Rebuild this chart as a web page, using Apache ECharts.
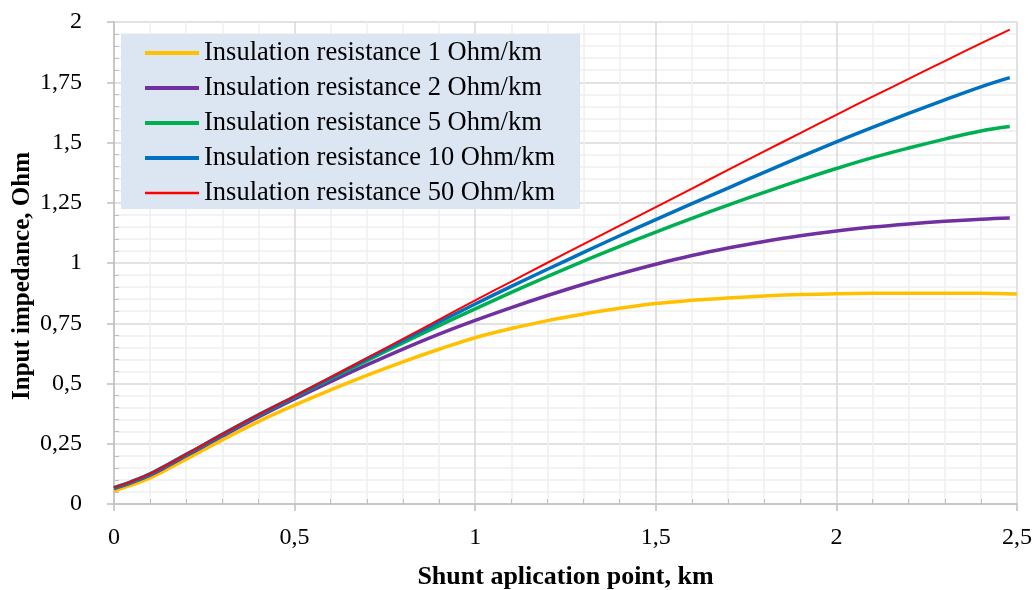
<!DOCTYPE html>
<html>
<head>
<meta charset="utf-8">
<script src="https://cdn.jsdelivr.net/npm/echarts@6/dist/echarts.min.js"></script>
<style>
html,body{margin:0;padding:0;background:#fff;}
#c{width:1036px;height:590px;}
</style>
</head>
<body>
<div id="c"></div>
<script>
// ---- data ----
var xValues = [0,0.05,0.1,0.15,0.2,0.25,0.3,0.4,0.5,0.6,0.7,0.8,0.9,1.0,1.1,1.2,1.3,1.4,1.5,1.6,1.7,1.8,1.9,2.0,2.1,2.2,2.3,2.4,2.48];
var xValuesR1 = [0,0.05,0.1,0.15,0.2,0.25,0.3,0.4,0.5,0.6,0.7,0.8,0.9,1.0,1.1,1.2,1.3,1.4,1.5,1.6,1.7,1.8,1.9,2.0,2.1,2.2,2.3,2.4,2.45,2.5];
var seriesNames = [
  'Insulation resistance 1 Ohm/km',
  'Insulation resistance 2 Ohm/km',
  'Insulation resistance 5 Ohm/km',
  'Insulation resistance 10 Ohm/km',
  'Insulation resistance 50 Ohm/km'
];
var r1  = [0.054,0.079,0.108,0.146,0.186,0.226,0.266,0.342,0.410,0.474,0.534,0.590,0.642,0.690,0.728,0.761,0.788,0.812,0.832,0.845,0.855,0.863,0.869,0.872,0.874,0.875,0.875,0.875,0.873,0.871];
var r2  = [0.064,0.090,0.120,0.159,0.200,0.241,0.282,0.361,0.436,0.508,0.577,0.643,0.705,0.762,0.815,0.865,0.912,0.955,0.995,1.031,1.062,1.089,1.113,1.133,1.149,1.162,1.173,1.182,1.187];
var r5  = [0.067,0.093,0.124,0.164,0.205,0.246,0.288,0.368,0.444,0.520,0.595,0.668,0.740,0.810,0.878,0.944,1.008,1.069,1.128,1.185,1.240,1.293,1.344,1.392,1.437,1.477,1.514,1.548,1.566];
var r10 = [0.068,0.094,0.125,0.165,0.206,0.247,0.289,0.370,0.446,0.524,0.602,0.679,0.755,0.830,0.903,0.974,1.044,1.113,1.180,1.246,1.311,1.376,1.440,1.503,1.563,1.621,1.677,1.731,1.769];
var r50 = [0.069,0.095,0.126,0.165,0.207,0.248,0.290,0.371,0.448,0.526,0.605,0.685,0.765,0.845,0.923,1.001,1.078,1.155,1.232,1.309,1.386,1.463,1.539,1.615,1.690,1.764,1.838,1.911,1.968];
var xTickLabels = ['0','0,5','1','1,5','2','2,5'];
var yTickLabels = ['0','0,25','0,5','0,75','1','1,25','1,5','1,75','2'];
var xTitle = 'Shunt aplication point, km';
var yTitle = 'Input impedance, Ohm';

// ---- chart ----
function zip(xs, ys){ return ys.map(function(v,i){ return [xs[i], v]; }); }
var colors = ['#FFC000','#7030A0','#00B050','#0070C0','#FF0000'];
var widths = [3.5,3.5,3.5,3.5,2];
var allData = [zip(xValuesR1, r1), zip(xValues, r2), zip(xValues, r5), zip(xValues, r10), zip(xValues, r50)];
var FONT = '"Liberation Serif","Times New Roman",serif';

var chart = echarts.init(document.getElementById('c'), null, {renderer:'canvas'});
var series = seriesNames.map(function(n,i){
  return {
    name: n, type: 'line', data: allData[i], smooth: 0.4,
    symbol: 'none', showSymbol: false,
    lineStyle: {color: colors[i], width: widths[i]},
    itemStyle: {color: colors[i]},
    z: 2 + i
  };
});
chart.setOption({
  animation: false,
  backgroundColor: '#ffffff',
  grid: {left: 114, right: 19, top: 22, bottom: 86, containLabel: false, outerBoundsMode: 'none'},
  legend: {
    orient: 'vertical', left: 121, top: 34,
    backgroundColor: '#dce6f2',
    padding: [4, 25, 1, 22],
    itemGap: 5, itemWidth: 54, itemHeight: 14,
    itemStyle: {opacity: 0},
    textStyle: {fontFamily: FONT, fontSize: 26.5, color: '#000', lineHeight: 30},
    data: seriesNames.map(function(n,i){
      return {name: n, lineStyle: {color: colors[i], width: i === 4 ? 2.5 : 4}};
    })
  },
  xAxis: {
    type: 'value', min: 0, max: 2.5, interval: 0.5,
    name: xTitle, nameLocation: 'middle', nameGap: 60,
    nameTextStyle: {fontFamily: FONT, fontSize: 26, fontWeight: 'bold', color: '#000'},
    axisLine: {show: true, lineStyle: {color: '#bfbfbf', width: 1.5}},
    axisTick: {show: true, length: 7, lineStyle: {color: '#bfbfbf', width: 1.5}},
    minorTick: {show: true, splitNumber: 5, length: -5, lineStyle: {color: '#bfbfbf', width: 1}},
    axisLabel: {margin: 22, fontFamily: FONT, fontSize: 24, color: '#000',
      formatter: function(v){ return xTickLabels[Math.round(v/0.5)]; }},
    splitLine: {show: true, lineStyle: {color: '#d9d9d9', width: 1.5}},
    minorSplitLine: {show: true, lineStyle: {color: '#efefef', width: 1.5}}
  },
  yAxis: {
    type: 'value', min: 0, max: 2, interval: 0.25,
    name: yTitle, nameLocation: 'middle', nameGap: 79, nameMoveOverlap: false,
    nameTextStyle: {fontFamily: FONT, fontSize: 25, fontWeight: 'bold', color: '#000', padding: [0, 26, 0, 0]},
    axisLine: {show: true, lineStyle: {color: '#bfbfbf', width: 1.5}},
    axisTick: {show: true, length: 7, lineStyle: {color: '#bfbfbf', width: 1.5}},
    minorTick: {show: true, splitNumber: 5, length: -5, lineStyle: {color: '#bfbfbf', width: 1}},
    axisLabel: {margin: 32, fontFamily: FONT, fontSize: 24, color: '#000',
      formatter: function(v){ return yTickLabels[Math.round(v/0.25)]; }},
    splitLine: {show: true, lineStyle: {color: '#d9d9d9', width: 1.5}},
    minorSplitLine: {show: true, lineStyle: {color: '#efefef', width: 1.5}}
  },
  series: series
});
</script>
</body>
</html>
